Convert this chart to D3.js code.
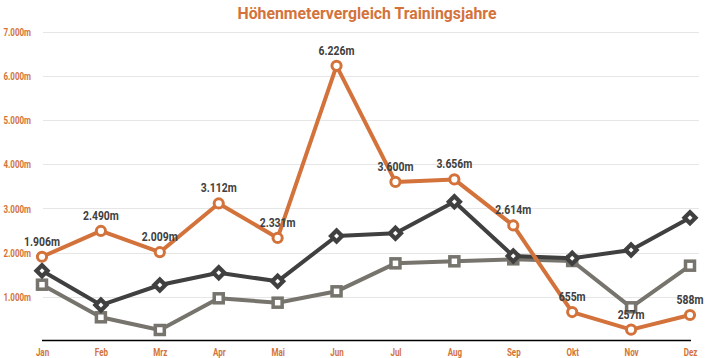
<!DOCTYPE html>
<html>
<head>
<meta charset="utf-8">
<script src="https://cdn.jsdelivr.net/npm/d3@7"></script>
<style>
  html, body { margin: 0; padding: 0; background: #fff; }
  svg { display: block; }
  text { font-family: Roboto, "Liberation Sans", sans-serif; font-weight: bold; }
</style>
</head>
<body>
<svg id="chart" width="705" height="358"></svg>
<script>
const months = ["Jan","Feb","Mrz","Apr","Mai","Jun","Jul","Aug","Sep","Okt","Nov","Dez"];
const seriesOrange = [1906, 2490, 2009, 3112, 2331, 6226, 3600, 3656, 2614, 655, 257, 588];
const seriesDark   = [1590, 814, 1267, 1545, 1350, 2376, 2436, 3150, 1923, 1871, 2059, 2790];
const seriesGray   = [1274, 536, 249, 966, 867, 1124, 1757, 1803, 1848, 1810, 762, 1704];
const yTicks = [1000, 2000, 3000, 4000, 5000, 6000, 7000];
const titleText = "Höhenmetervergleich Trainingsjahre";

const ORANGE = "#d3733b", DARK = "#404040", GRAY = "#76746d";
const fmt = v => d3.format(",")(v).replace(/,/g, ".") + "m";

// condense text horizontally (reference uses a narrow display face)
function condense(sel, k) {
  sel.each(function () {
    const w = this.getComputedTextLength();
    d3.select(this).attr("textLength", w * k).attr("lengthAdjust", "spacingAndGlyphs");
  });
}

const svg = d3.select("#chart");
const W = 705;
const x = d3.scalePoint().domain(months).range([42, 690]);
const y = d3.scaleLinear().domain([0, 7000]).range([341, 31.6]);

// title
svg.append("text").attr("x", 367).attr("y", 19).attr("text-anchor", "middle")
  .attr("fill", ORANGE).attr("font-size", 17)
  .attr("textLength", 259).attr("lengthAdjust", "spacingAndGlyphs")
  .text(titleText);

// gridlines
svg.append("g").selectAll("line").data(yTicks).join("line")
  .attr("x1", 43).attr("x2", 699)
  .attr("y1", d => Math.round(y(d)) + 0.5).attr("y2", d => Math.round(y(d)) + 0.5)
  .attr("stroke", "#e6e6e6").attr("stroke-width", 1);

// y axis labels
const yAxis = d3.axisLeft(y).tickValues(yTicks).tickSize(0).tickPadding(0).tickFormat(fmt);
const gy = svg.append("g").attr("transform", "translate(31,0)").call(yAxis);
gy.select(".domain").remove();
gy.selectAll("text").attr("fill", ORANGE).attr("font-size", 10)
  .attr("dy", "0.36em").call(condense, 0.8);

// x axis
const xAxis = d3.axisBottom(x).tickSize(0).tickPadding(0);
const gx = svg.append("g").attr("transform", "translate(0,341)").call(xAxis);
gx.select(".domain").remove();
gx.selectAll("text").attr("fill", ORANGE).attr("font-size", 10)
  .attr("y", 15).attr("dy", 0).call(condense, 0.8);
svg.append("line").attr("x1", 42).attr("x2", 691).attr("y1", 340.5).attr("y2", 340.5)
  .attr("stroke", "#000").attr("stroke-width", 1.5);

const line = d3.line().x((d, i) => x(months[i])).y(d => y(d));

function drawLine(data, color) {
  svg.append("path").datum(data).attr("d", line)
    .attr("fill", "none").attr("stroke", color).attr("stroke-width", 4)
    .attr("stroke-linejoin", "round");
}

// gray series
drawLine(seriesGray, GRAY);
svg.append("g").selectAll("rect").data(seriesGray).join("rect")
  .attr("x", (d, i) => x(months[i]) - 4.5).attr("y", d => y(d) - 4.5)
  .attr("width", 9).attr("height", 9)
  .attr("fill", "#fff").attr("stroke", GRAY).attr("stroke-width", 3.5);

// dark series
drawLine(seriesDark, DARK);
const diamond = r => `M0,${-r}L${r},0L0,${r}L${-r},0Z`;
const gd = svg.append("g").selectAll("g").data(seriesDark).join("g")
  .attr("transform", (d, i) => `translate(${x(months[i])},${y(d)})`);
gd.append("path").attr("d", diamond(8.5)).attr("fill", DARK);
gd.append("path").attr("d", diamond(2.5)).attr("fill", "#fff");

// orange series
drawLine(seriesOrange, ORANGE);
svg.append("g").selectAll("circle").data(seriesOrange).join("circle")
  .attr("cx", (d, i) => x(months[i])).attr("cy", d => y(d)).attr("r", 4.6)
  .attr("fill", "#fff").attr("stroke", ORANGE).attr("stroke-width", 3);

// data labels
svg.append("g").selectAll("text").data(seriesOrange).join("text")
  .attr("x", (d, i) => x(months[i])).attr("y", d => y(d) - 11)
  .attr("text-anchor", "middle").attr("fill", DARK).attr("font-size", 13)
  .text(fmt).call(condense, 0.8)
  .each(function () {
    const t = d3.select(this);
    const half = +t.attr("textLength") / 2;
    const cx = +t.attr("x");
    if (cx + half > W - 1) t.attr("x", W - 1 - half);
  });
</script>
</body>
</html>
